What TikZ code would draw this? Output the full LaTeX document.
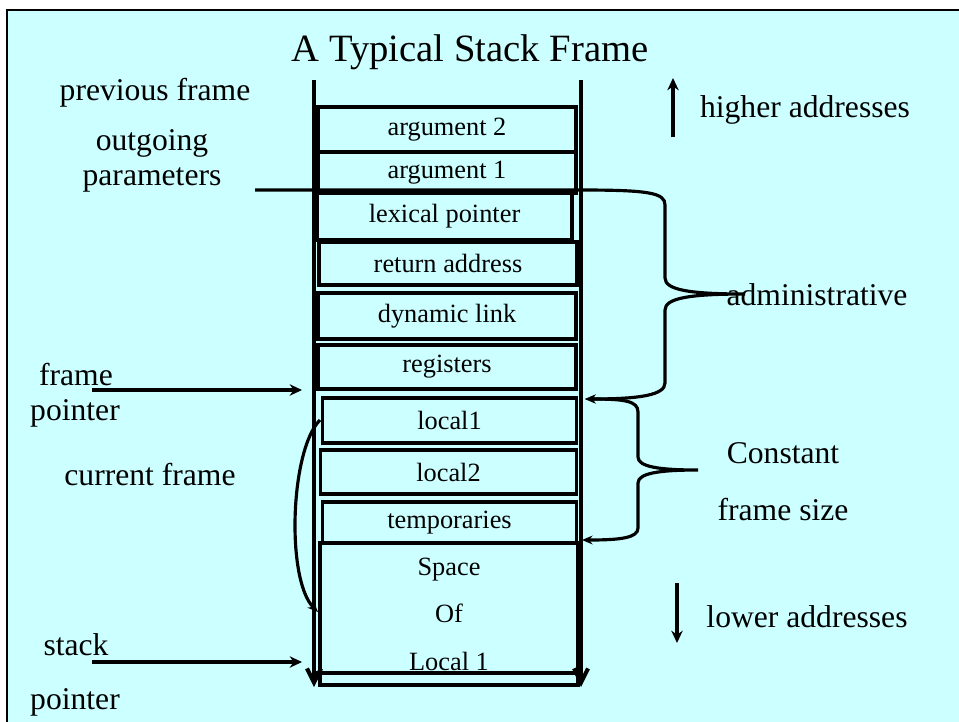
\documentclass[tikz,border=0pt]{standalone}
\usepackage{fontspec}
\setmainfont{Liberation Serif}
\usetikzlibrary{arrows.meta}
\definecolor{slidebg}{HTML}{CCFFFF}
\tikzset{
  cell/.style={draw,line width=2pt,minimum width=5.16cm,inner sep=0pt,align=center,font=\fontsize{15}{18}\selectfont},
  side/.style={inner sep=0pt,font=\fontsize{18}{22}\selectfont},
  wall/.style={line width=2.3pt,-{Straight Barb[length=8pt,width=8pt,line width=2.3pt]}},
  ptr/.style={line width=2pt,-{Stealth[length=7pt,width=6.5pt]}},
  brace/.style={line width=1.8pt},
}

\begin{document}
\begin{tikzpicture}[x=0.02cm,y=-0.02cm]
  \useasboundingbox (0,0) rectangle (959,721);
  \draw[line width=1.2pt,fill=slidebg] (7,10) rectangle (966,730);

  \node[font=\fontsize{22}{26}\selectfont] (title) at (470,52) {A Typical Stack Frame};

  % the frame cells
  \node[cell,line width=2.6pt,minimum height=0.9cm] (arg2) at (447,129.5) {argument 2};
  \node[cell,line width=2.6pt,minimum height=0.82cm] (arg1) at (447,172.5) {argument 1};
  \node[cell,line width=2.4pt,minimum width=5.1cm,minimum height=0.96cm] (lex) at (444.5,216) {lexical pointer};
  \node[cell,minimum height=0.86cm] (ret) at (448,263.5) {return address};
  \node[cell,minimum height=0.92cm] (dyn) at (447,316) {dynamic link};
  \node[cell,minimum height=0.88cm] (reg) at (447,367) {registers};
  \node[cell,minimum width=5.08cm,minimum height=0.9cm] (loc1) at (449.5,420.5) {local1};
  \node[cell,minimum width=5.12cm,minimum height=0.88cm] (loc2) at (448.5,472) {local2};
  \node[cell,minimum width=5.08cm,minimum height=0.82cm] (tmp) at (449.5,522.5) {temporaries};
  \node[cell,minimum height=2.84cm,font=\fontsize{15}{27}\selectfont] (spc) at (449,614) {Space\\Of\\Local 1};

  \coordinate (ltop) at (314,80);
  \coordinate (lbot) at (314,687);
  \coordinate (rtop) at (581,80);
  \coordinate (rbot) at (581,687);
  \draw[wall] (ltop) -- (lbot);
  \draw[wall] (rtop) -- (rbot);
  \coordinate (floorl) at (316,673);
  \coordinate (floorr) at (579,673);
  \draw[line width=1.8pt] (floorl) -- (floorr);

  \node[side] (prev) at (155,93) {previous frame};
  \node[side] (outg) at (152,143) {outgoing};
  \node[side] (parm) at (152,180) {parameters};

  \node[side] (high) at (805,110) {higher addresses};
  \coordinate (hfrom) at (673,137);
  \coordinate (hto) at (673,78);
  \draw[ptr] (hfrom) -- (hto);

  \node[side] (low) at (807,617) {lower addresses};
  \coordinate (lfrom) at (677,583);
  \coordinate (lto) at (677,643);
  \draw[ptr] (lfrom) -- (lto);

  % administrative brace, starting at the parameters line
  \node[side] (adm) at (817,295) {administrative};
  \coordinate (parmline) at (255,190);
  \coordinate (admtop) at (581,190);
  \coordinate (admtip) at (745,294);
  \coordinate (admbot) at (585,399);
  \draw[brace,-{Stealth[length=6pt,width=5pt]}] (parmline) -- (admtop)
    .. controls (650,190) and (665,193) .. (665,205) -- (665,278)
    .. controls (665,290) and (690,294) .. (admtip)
    .. controls (690,294) and (665,298) .. (665,310) -- (665,383)
    .. controls (665,395) and (640,399) .. (admbot);

  \node[side] (const) at (783,453) {Constant};
  \node[side] (fsize) at (783,510) {frame size};
  \coordinate (cfstop) at (585,399);
  \coordinate (cfstip) at (698,470);
  \coordinate (cfsbot) at (582,540);
  \draw[brace,{Stealth[length=6pt,width=5pt]}-{Stealth[length=6pt,width=5pt]}] (cfstop)
    .. controls (625,399) and (638,401) .. (638,412) -- (638,457)
    .. controls (638,467) and (660,470) .. (cfstip)
    .. controls (660,470) and (638,473) .. (638,483) -- (638,528)
    .. controls (638,538) and (620,540) .. (cfsbot);

  \node[side] (fp1) at (76,375) {frame};
  \node[side] (fp2) at (75,413) {pointer};
  \coordinate (fpfrom) at (92,390);
  \coordinate (fpto) at (302,390);
  \draw[ptr] (fpfrom) -- (fpto);

  \node[side] (cur) at (150,475) {current frame};
  \coordinate (cfrom) at (320,420);
  \coordinate (cto) at (318,612);
  \draw[brace,-{Stealth[length=6pt,width=5pt]}] (cfrom) .. controls (290,450) and (286,580) .. (cto);

  \node[side] (sp1) at (76,645) {stack};
  \node[side] (sp2) at (75,702) {pointer};
  \coordinate (spfrom) at (92,662);
  \coordinate (spto) at (302,662);
  \draw[ptr] (spfrom) -- (spto);
\end{tikzpicture}
\end{document}
